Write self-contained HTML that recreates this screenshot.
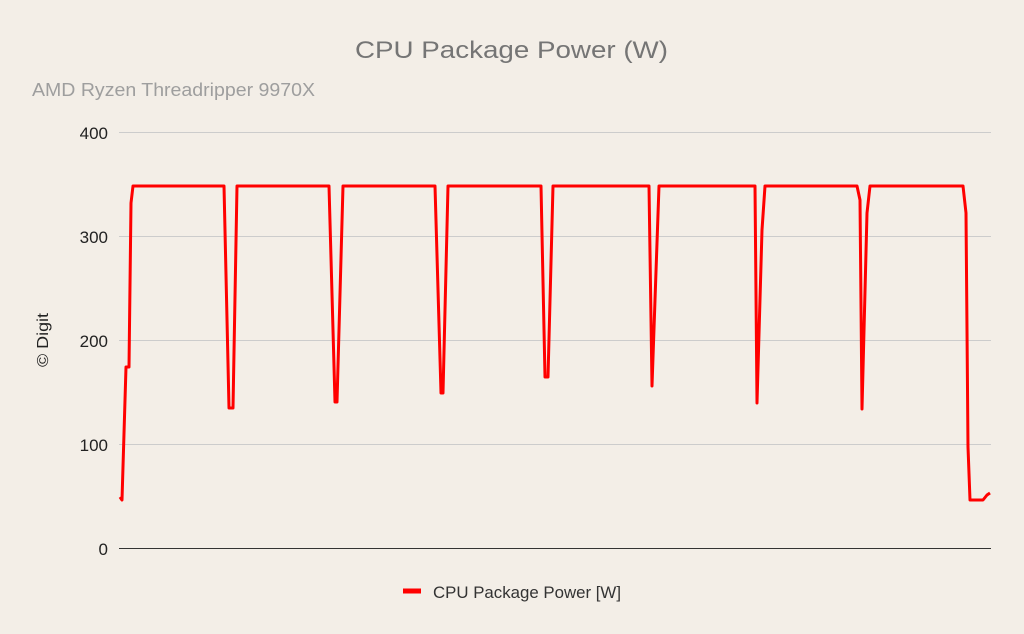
<!DOCTYPE html>
<html><head><meta charset="utf-8"><style>
html,body{margin:0;padding:0;background:#f3eee7;}
svg{display:block;}
</style></head><body>
<svg width="1024" height="634" viewBox="0 0 1024 634" xmlns="http://www.w3.org/2000/svg">
<rect width="1024" height="634" fill="#f3eee7"/>
<text x="355" y="58" textLength="313" lengthAdjust="spacingAndGlyphs" font-family="Liberation Sans, sans-serif" font-size="24" fill="#757575">CPU Package Power (W)</text>
<text x="32" y="96" textLength="283" lengthAdjust="spacingAndGlyphs" font-family="Liberation Sans, sans-serif" font-size="18" fill="#9e9e9e">AMD Ryzen Threadripper 9970X</text>
<g stroke="#cccccc" stroke-width="1">
<line x1="119" y1="132.5" x2="991" y2="132.5"/>
<line x1="119" y1="236.5" x2="991" y2="236.5"/>
<line x1="119" y1="340.5" x2="991" y2="340.5"/>
<line x1="119" y1="444.5" x2="991" y2="444.5"/>
</g>
<line x1="119" y1="548.5" x2="991" y2="548.5" stroke="#333" stroke-width="1"/>
<g font-family="Liberation Sans, sans-serif" font-size="17" fill="#222" text-anchor="end">
<text x="108" y="139">400</text>
<text x="108" y="243">300</text>
<text x="108" y="347">200</text>
<text x="108" y="451">100</text>
<text x="108" y="555">0</text>
</g>
<text transform="translate(48,340) rotate(-90)" x="-27" y="0" textLength="54" lengthAdjust="spacingAndGlyphs" font-family="Liberation Sans, sans-serif" font-size="16" fill="#222">© Digit</text>
<polyline fill="none" stroke="#ff0000" stroke-width="3" stroke-linejoin="round" points="
120,497 122,500 126,367 129,367 131,203 133,186
224,186 229,408 233,408 237,186
329,186 335,402 337,402 343,186
435,186 441,393 443,393 448,186
541,186 545,377 548,377 553,186
649,186 652,386 655,300 659,186
755,186 757,403 762,230 765,186
857,186 860,200 862,409 867,213 870,186
963,186 966,213 968,447 970,500 983,500 987,495 990,493"/>
<line x1="403" y1="591" x2="421" y2="591" stroke="#ff0000" stroke-width="5"/>
<text x="433" y="598" textLength="188" lengthAdjust="spacingAndGlyphs" font-family="Liberation Sans, sans-serif" font-size="17" fill="#333">CPU Package Power [W]</text>
</svg>
</body></html>
